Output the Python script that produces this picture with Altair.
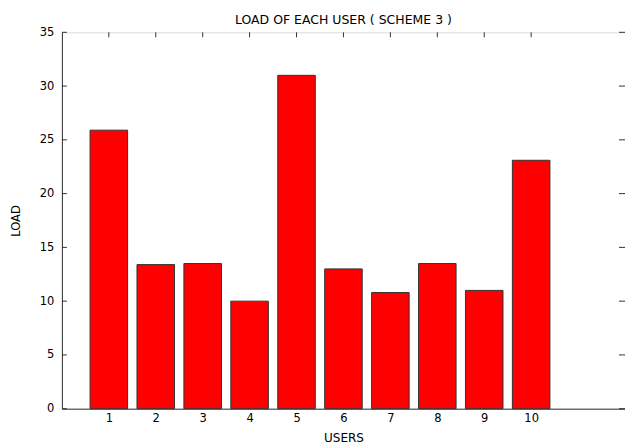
import altair as alt
import pandas as pd

users = [1, 2, 3, 4, 5, 6, 7, 8, 9, 10]
loads = [25.9, 13.4, 13.5, 10.0, 31.0, 13.0, 10.8, 13.5, 11.0, 23.1]
y_ticks = [0, 5, 10, 15, 20, 25, 30, 35]
x_ticks = users

W, H = 564, 377
FONT = "DejaVu Sans"
AX = "#333333"

bars_df = pd.DataFrame({"user": users, "load": loads})
ytick_df = pd.DataFrame({"v": y_ticks})
xtick_df = pd.DataFrame({"u": x_ticks})

xscale = alt.Scale(domain=[0, 12], nice=False, zero=False)
yscale = alt.Scale(domain=[0, 35], nice=False)

bars = alt.Chart(bars_df).transform_calculate(
    x0="datum.user - 0.4", x1="datum.user + 0.4"
).mark_rect(fill="#ff0000", stroke="#333333", strokeWidth=1).encode(
    x=alt.X("x0:Q", scale=xscale,
            axis=alt.Axis(values=x_ticks, title="USERS", tickSize=0, labelPadding=4,
                          grid=False, domainColor=AX, labelFont=FONT, labelFontSize=11.5,
                          labelColor="black", titleFont=FONT, titleFontSize=12,
                          titleFontWeight="normal", titleColor="black", titlePadding=8)),
    x2="x1:Q",
    y=alt.Y("load:Q", scale=yscale,
            axis=alt.Axis(values=y_ticks, title="LOAD", tickSize=0, labelPadding=8,
                          grid=False, domainColor=AX, labelFont=FONT, labelFontSize=11.5,
                          labelColor="black", titleFont=FONT, titleFontSize=11.5,
                          titleFontWeight="normal", titleColor="black", titlePadding=18)),
    y2=alt.datum(0),
)

left_ticks = alt.Chart(ytick_df).mark_rule(color=AX, strokeWidth=1).encode(
    y=alt.Y("v:Q", scale=yscale), x=alt.value(0), x2=alt.value(5)
)
right_ticks = alt.Chart(ytick_df).mark_rule(color=AX, strokeWidth=1).encode(
    y=alt.Y("v:Q", scale=yscale), x=alt.value(W - 6), x2=alt.value(W)
)
top_ticks = alt.Chart(xtick_df).mark_rule(color=AX, strokeWidth=1).encode(
    x=alt.X("u:Q", scale=xscale), y=alt.value(0), y2=alt.value(5)
)
bottom_ticks = alt.Chart(xtick_df).mark_rule(color=AX, strokeWidth=1).encode(
    x=alt.X("u:Q", scale=xscale), y=alt.value(H - 5), y2=alt.value(H)
)

chart = alt.layer(bottom_ticks, bars, left_ticks, right_ticks, top_ticks).properties(
    width=W, height=H,
    title=alt.TitleParams("LOAD OF EACH USER ( SCHEME 3 )", font=FONT, fontSize=12.5,
                          fontWeight="normal", color="black", anchor="middle",
                          offset=8, dy=8),
    autosize=alt.AutoSizeParams(type="none"),
    padding={"left": 62, "top": 32, "right": 0, "bottom": 36},
).configure_view(stroke=AX, strokeWidth=1).configure(background="white")

chart.save("out.html", embed_options={"renderer": "svg", "actions": False})
